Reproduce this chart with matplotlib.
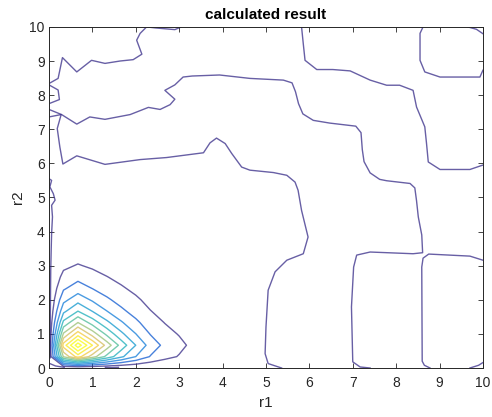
import numpy as np
import matplotlib
matplotlib.use("Agg")
import matplotlib.pyplot as plt
from matplotlib.colors import LinearSegmentedColormap, Normalize

plt.rcParams['font.family'] = ['Liberation Sans', 'DejaVu Sans']

# peak: profiles read along r2 = 2/3 (over r1) and r1 = 2/3 (over r2), grid step 1/3
peak_nodes = np.linspace(0, 4, 13)
profile_r1 = [0, 0.75, 1.0, 0.794, 0.603, 0.444, 0.317, 0.206, 0.139, 0.099, 0.060, 0.032, 0.016]
profile_r2 = [0, 0.75, 1.0, 0.754, 0.556, 0.397, 0.286, 0.198, 0.135, 0.085, 0.048, 0.028, 0.016]
peak_height = 12.6
levels = list(range(1, 13))

# lowest-level contour lines outside the peak, (r1, r2) pairs
line_top_left = [(3.05, 10.0), (2.9, 9.92), (2.45, 9.97), (2.25, 10.0), (2.10, 9.81), (2.02, 9.61),
                 (2.14, 9.2), (1.94, 9.04), (1.64, 9.0), (1.29, 8.93), (0.98, 9.02), (0.64, 8.68),
                 (0.31, 9.10), (0.21, 8.49), (0.0, 8.34)]
line_notch = [(0.0, 8.3), (0.21, 8.15), (0.24, 7.87), (0.0, 7.75)]
line_upper = [(0.0, 7.58), (0.29, 7.43), (0.64, 7.15), (0.94, 7.36), (1.29, 7.29), (1.87, 7.43),
              (2.29, 7.64), (2.56, 7.58), (2.79, 7.72), (2.90, 7.88), (2.67, 8.14), (2.90, 8.30),
              (3.09, 8.53), (3.3, 8.56), (3.93, 8.59), (4.63, 8.49), (5.40, 8.44), (5.60, 8.36),
              (5.68, 8.1), (5.75, 7.75), (5.85, 7.45), (6.09, 7.26), (6.47, 7.18), (7.07, 7.09),
              (7.19, 6.9), (7.22, 6.4), (7.26, 6.05), (7.40, 5.72), (7.62, 5.53), (7.78, 5.49),
              (8.32, 5.41), (8.43, 5.28), (8.47, 4.9), (8.51, 4.43), (8.59, 3.9), (8.61, 3.38),
              (8.39, 3.35), (7.40, 3.40), (7.09, 3.31), (7.02, 2.96), (6.97, 1.79), (7.0, 0.18),
              (7.17, 0.03), (7.40, 0.0)]
line_middle = [(0.0, 7.36), (0.28, 7.43), (0.19, 7.02), (0.25, 6.48), (0.32, 5.98), (0.64, 6.22),
               (1.29, 5.97), (2.10, 6.11), (2.71, 6.17), (3.56, 6.31), (3.71, 6.60), (3.86, 6.74),
               (4.06, 6.58), (4.21, 6.29), (4.44, 5.89), (4.63, 5.80), (5.17, 5.73), (5.48, 5.65),
               (5.67, 5.45), (5.74, 5.21), (5.82, 4.62), (5.92, 4.10), (5.97, 3.84), (5.86, 3.35),
               (5.48, 3.16), (5.21, 2.82), (5.05, 2.28), (5.0, 1.2), (4.98, 0.42), (5.05, 0.13),
               (5.36, 0.0)]
line_top_mid = [(5.82, 10.0), (5.86, 9.5), (5.90, 9.02), (6.17, 8.75), (6.54, 8.75), (6.94, 8.71),
                (7.40, 8.44), (7.78, 8.29), (8.08, 8.29), (8.39, 8.14), (8.47, 7.65), (8.66, 7.07),
                (8.70, 6.58), (8.74, 6.04), (9.01, 5.82), (9.70, 5.82), (10.0, 5.95)]
line_box_top = [(8.62, 10.0), (8.55, 9.81), (8.55, 9.02), (8.66, 8.68), (9.01, 8.53), (9.93, 8.53),
                (10.0, 8.73)]
line_corner = [(9.65, 10.0), (9.85, 9.93), (10.0, 9.8)]
line_box_right = [(10.0, 3.16), (9.70, 3.28), (8.75, 3.34), (8.62, 3.22), (8.59, 2.96), (8.60, 0.2),
                  (8.65, 0.08), (8.78, 0.0)]
line_box_edge = [(9.70, 0.0), (9.9, 0.08), (10.0, 0.16)]
line_left_edge = [(0.0, 5.55), (0.06, 5.50), (0.02, 5.31), (0.1, 5.11), (0.14, 4.92), (0.06, 4.77),
                  (0.08, 4.43), (0.06, 3.94), (0.05, 3.45), (0.04, 2.87), (0.03, 1.5), (0.03, 0.3)]
line_bottom_a = [(0.0, 0.14), (0.15, 0.06), (0.35, 0.02)]
line_bottom_b = [(1.3, 0.02), (1.45, 0.01), (1.6, 0.02)]

background_lines = [line_top_left, line_notch, line_upper, line_middle, line_top_mid, line_box_top,
                    line_corner, line_box_right, line_box_edge, line_left_edge, line_bottom_a,
                    line_bottom_b]

parula = LinearSegmentedColormap.from_list('parula', [
    '#352a87', '#0363e1', '#1485d4', '#06a7c6', '#38b99e',
    '#92bf73', '#d9ba56', '#fcce2e', '#f9fb0e'])
norm = Normalize(vmin=levels[0], vmax=10.5)
low_color = parula(norm(levels[0]))

fig = plt.figure(figsize=(4.92, 4.17), dpi=100)
ax = fig.add_axes([0.0996, 0.1175, 0.882, 0.818])

X, Y = np.meshgrid(peak_nodes, peak_nodes)
Z = peak_height * np.outer(profile_r2, profile_r1)
ax.contour(X, Y, Z, levels=levels, cmap=parula, norm=norm, linewidths=1.0, alpha=0.75)

for pts in background_lines:
    xs = [p[0] for p in pts]
    ys = [p[1] for p in pts]
    ax.plot(xs, ys, color=low_color, linewidth=1.0, alpha=0.75)

ax.set_xlim(0, 10)
ax.set_ylim(0, 10)
ax.set_xticks(range(0, 11))
ax.set_yticks(range(0, 11))
dark = '#262626'
for s in ax.spines.values():
    s.set_color(dark)
    s.set_linewidth(0.7)
ax.tick_params(direction='in', top=True, right=True, length=3.5, width=0.6,
               colors=dark, labelsize=10)
ax.tick_params(axis='x', pad=6)
ax.tick_params(axis='y', pad=3)
ax.set_xlabel('r1', fontsize=11, color=dark, labelpad=4)
ax.set_ylabel('r2', fontsize=11, color=dark, labelpad=3)
ax.set_title('calculated result', fontsize=11, fontweight='bold', color='black', pad=6)

fig.savefig('out.png', dpi=100)
